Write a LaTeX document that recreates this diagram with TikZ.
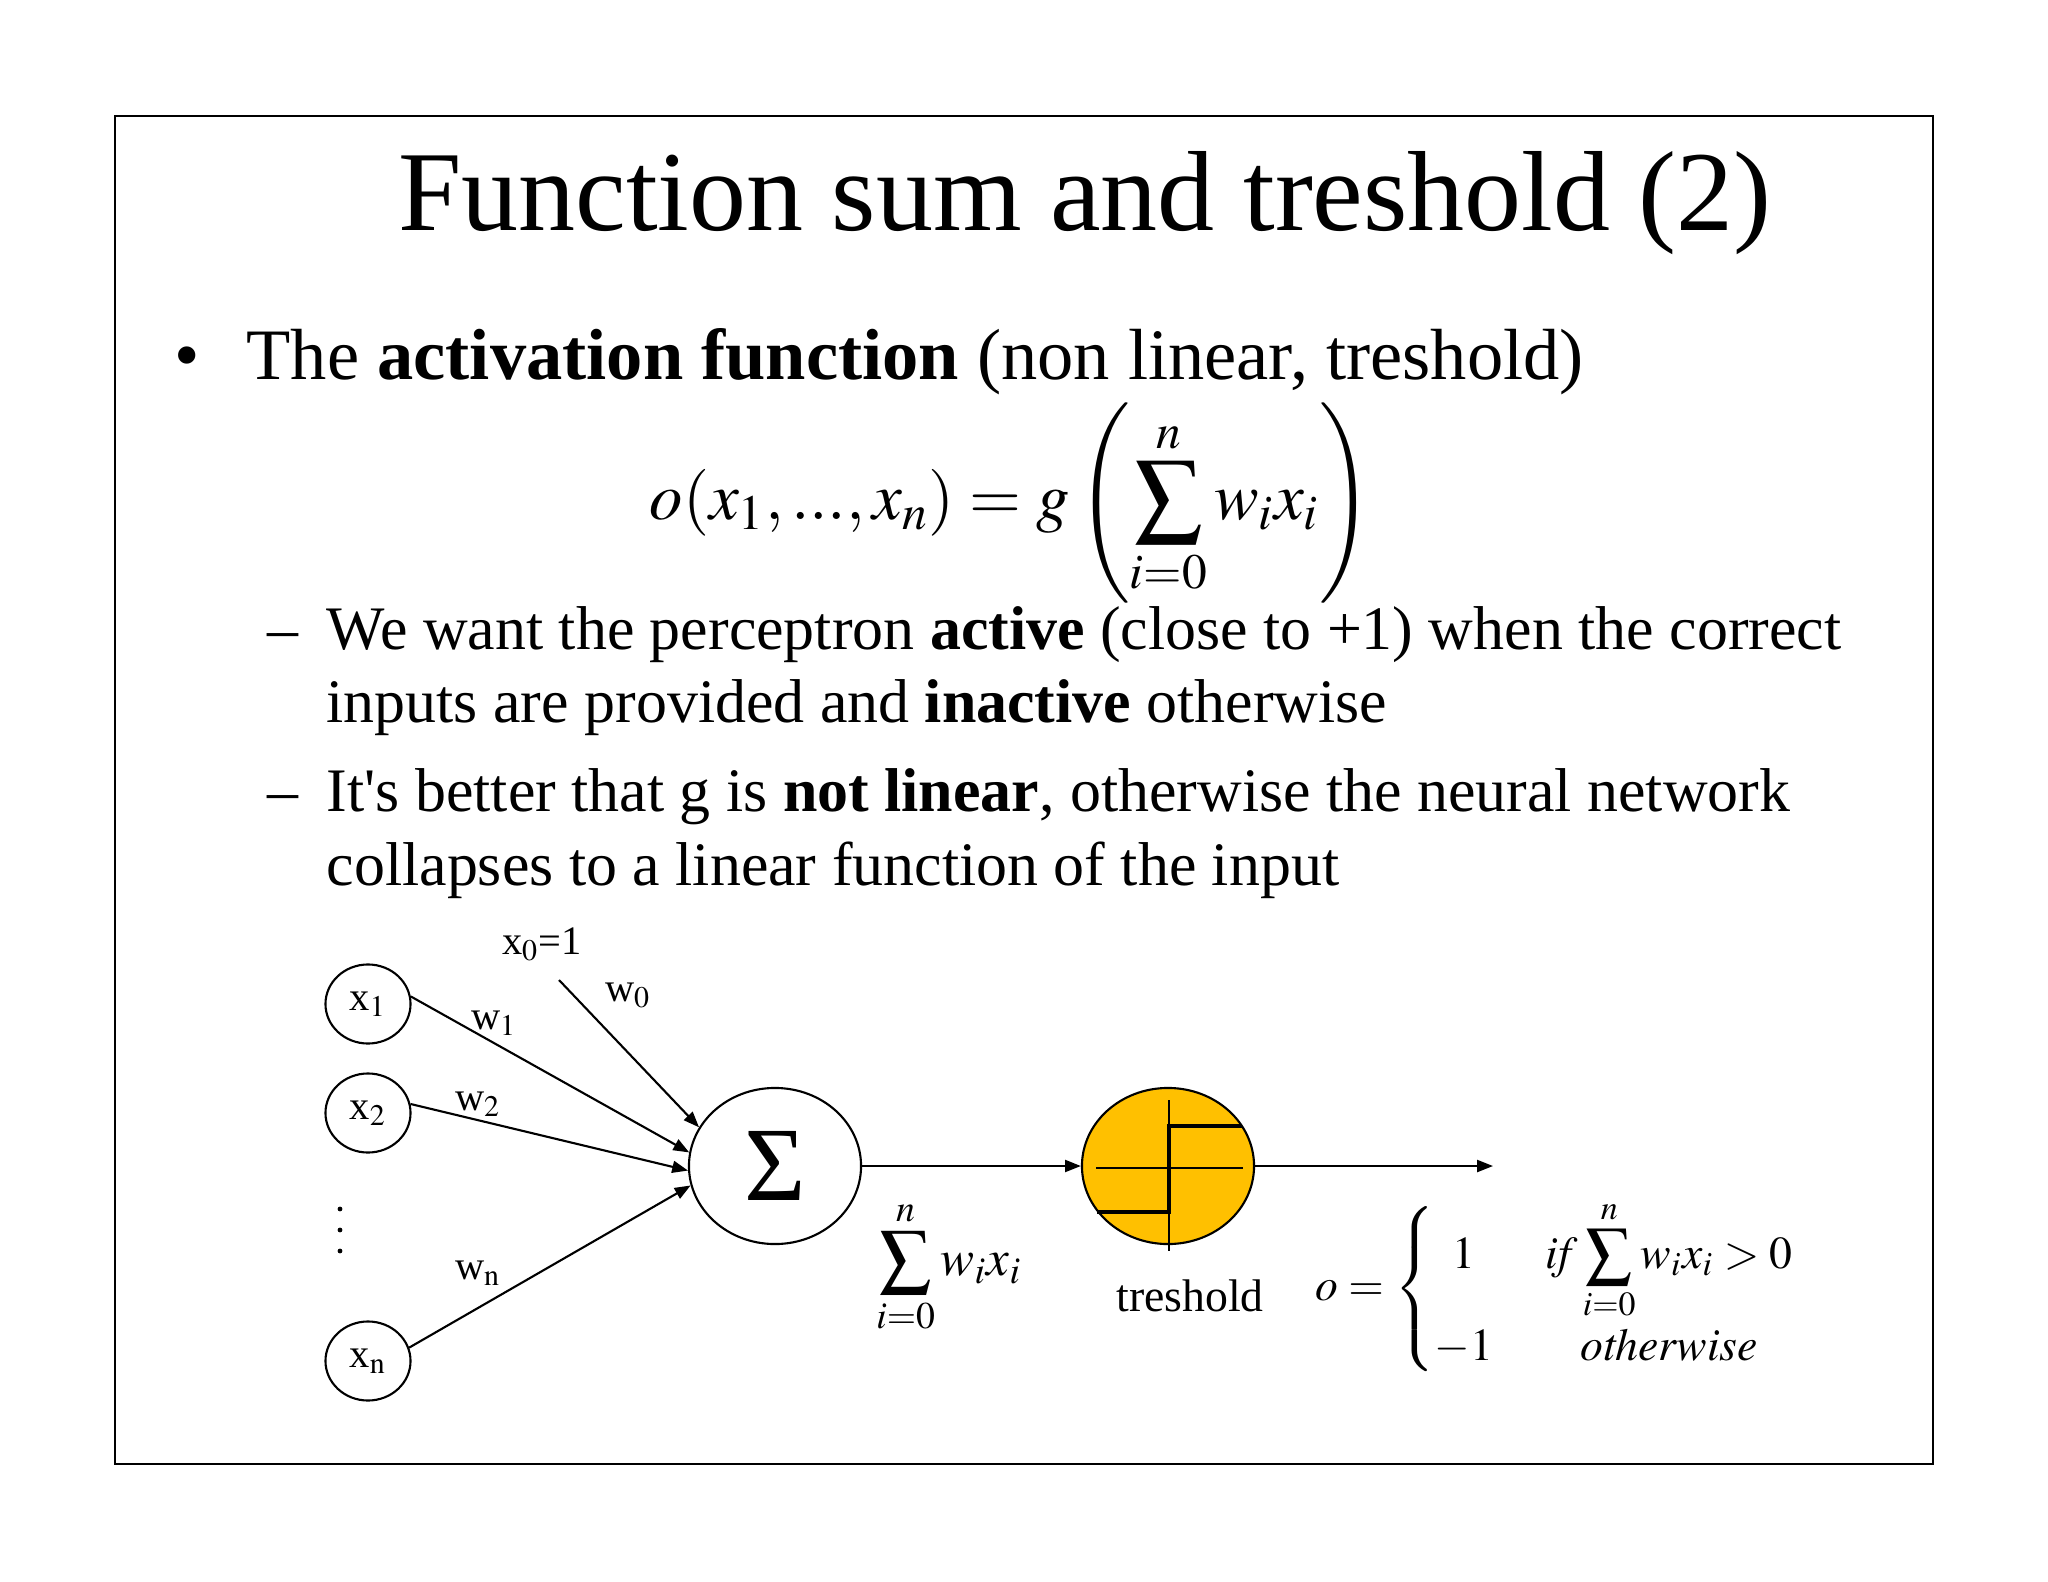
\documentclass[tikz,border=0pt]{standalone}
\usepackage{mathptmx}
\usepackage[no-math]{fontspec}
\setmainfont{Liberation Serif}[Ligatures=TeXOff]
\usetikzlibrary{arrows.meta,shapes.geometric}
\definecolor{stepgold}{HTML}{FFC000}
\newcommand\slidetitle{\fontsize{32.4}{40}\selectfont}
\newcommand\slidebody{\fontsize{20.6}{25}\selectfont}
\newcommand\slidesub{\fontsize{17.6}{21}\selectfont}
\newcommand\slideeq{\fontsize{19}{23}\selectfont}
\newcommand\diaglabel{\fontsize{11.5}{14}\selectfont}
\newcommand\diagmath{\fontsize{13}{16}\selectfont}
\begin{document}
\begin{tikzpicture}[x=0.01cm,y=-0.01cm,every node/.style={inner sep=0pt},
  line/.style={anchor=base west},
  unit/.style={draw,ellipse,line width=0.6pt,minimum width=0.85cm,minimum height=0.79cm,font=\diaglabel},
  big/.style={unit,minimum width=1.72cm,minimum height=1.56cm},
  link/.style={line width=0.6pt,-{Triangle[length=4.5pt,width=3.4pt]}}]
  \fill[white] (0,0) rectangle (2048,1582);
  \useasboundingbox (0,0) rectangle (2048,1582);
  \draw[line width=0.6pt] (115,116) rectangle (1933,1464);
  % slide text
  \node[anchor=base,font=\slidetitle] (title) at (1085,231) {Function sum and treshold (2)};
  \node[anchor=base,font=\slidebody] (dot1) at (187,379) {•};
  \node[line,font=\slidebody] (bul1) at (246,379) {The \textbf{activation function} (non linear, treshold)};
  \node[font=\slideeq] (eq) at (1011,503) {$\displaystyle o(x_1,...,x_n)=g\left(\sum_{i=0}^{n}w_ix_i\right)$};
  \node[anchor=base,font=\slidesub] (dash1) at (283,649) {–};
  \node[line,font=\slidesub] (sub1a) at (326,649) {We want the perceptron \textbf{active} (close to +1) when the correct};
  \node[line,font=\slidesub] (sub1b) at (326,722) {inputs are provided and \textbf{inactive} otherwise};
  \node[anchor=base,font=\slidesub] (dash2) at (283,811) {–};
  \node[line,font=\slidesub] (sub2a) at (326,811) {It's better that g is \textbf{not linear}, otherwise the neural network};
  \node[line,font=\slidesub] (sub2b) at (326,885) {collapses to a linear function of the input};
  % perceptron
  \node[unit] (x1) at (368,1004) {x$_1$};
  \node[unit] (x2) at (368,1113) {x$_2$};
  \node[unit] (xn) at (368,1361) {x$_\mathrm{n}$};
  \foreach \y in {1209,1230,1251} \fill (340,\y) circle (2.4);
  \node[font=\diaglabel] (x0) at (542,944) {x$_0$=1};
  \coordinate (w0s) at (559,980);
  \node[big,font=\fontsize{30}{32}\selectfont] (sum) at (775,1166) {Σ};
  \draw[link] (w0s) -- (sum.153);
  \node[font=\diaglabel] (w0) at (628,995) {w$_0$};
  \draw[link] (x1.10) -- (sum.171);
  \draw[link] (x2.12) -- (sum.183);
  \draw[link] (xn.18) -- (sum.193);
  \node[font=\diaglabel] (w1) at (494,1023) {w$_1$};
  \node[font=\diaglabel] (w2) at (478,1104) {w$_2$};
  \node[font=\diaglabel] (wn) at (478,1273) {w$_\mathrm{n}$};
  \node[big,fill=stepgold] (thr) at (1168,1166) {};
  \draw[line width=0.3pt] (1096,1168) -- (1243,1168);
  \draw[line width=0.3pt] (1169,1100) -- (1169,1251);
  \draw[line width=1.2pt] (1097,1212) -- (1169,1212) -- (1169,1126) -- (1242,1126);
  \draw[link] (sum) -- (thr);
  \coordinate (out) at (1493,1166);
  \draw[link] (thr) -- (out);
  \node[font=\fontsize{14.5}{17}\selectfont] (sumlabel) at (949,1267) {$\displaystyle\sum_{i=0}^{n}w_ix_i$};
  \node[font=\diagmath] (thrlabel) at (1190,1296) {treshold};
  \node[font=\diagmath] (rule) at (1556,1289) {$o=\left\{\begin{array}{@{}c@{\hspace{15pt}}c@{}}1 & \mathit{if}\displaystyle\sum_{i=0}^{n}w_ix_i>0\\[2pt] -1 & \mathit{otherwise}\end{array}\right.$};
\end{tikzpicture}
\end{document}
